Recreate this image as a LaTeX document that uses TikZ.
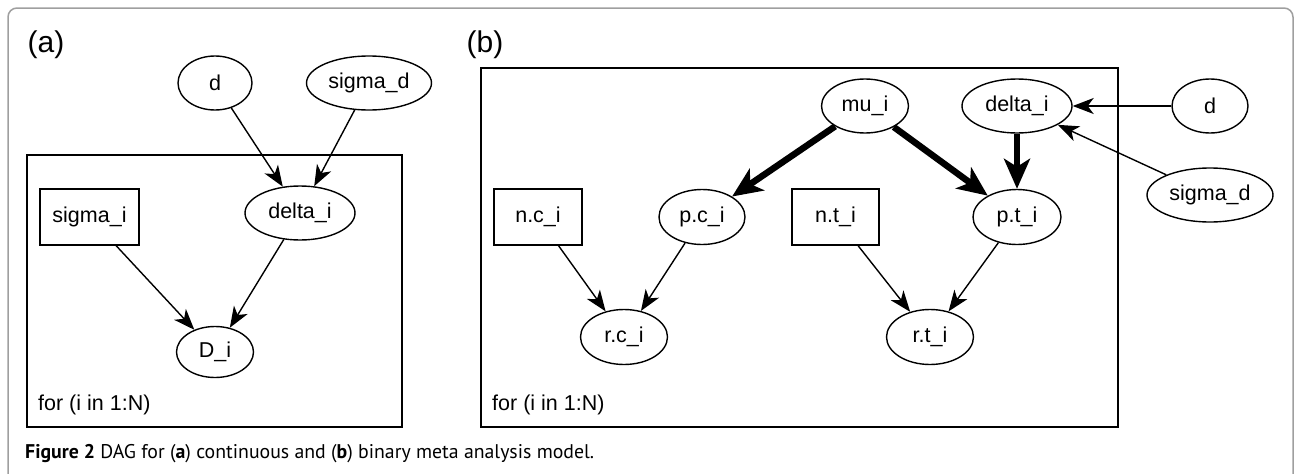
\documentclass[tikz,border=0pt]{standalone}
\usepackage{fontspec}
\setmainfont{Liberation Sans}
\newfontfamily\capfont{PT Sans}
\usetikzlibrary{shapes.geometric,arrows.meta}
\tikzset{
  ell/.style={ellipse,draw,line width=1.4pt,inner sep=0pt,font=\fontsize{21.5}{24}\selectfont},
  sq/.style={rectangle,draw,line width=1.4pt,inner sep=0pt,font=\fontsize{21.5}{24}\selectfont},
  plate/.style={draw,line width=1.8pt},
  arr/.style={line width=1.4pt,-{Stealth[length=21pt,width=16pt,inset=6pt]}},
  thick arr/.style={line width=6.5pt,-{Stealth[length=30pt,width=26pt,inset=8pt]}},
  lab/.style={font=\fontsize{21.5}{24}\selectfont,inner sep=0pt},
  plab/.style={font=\fontsize{30}{34}\selectfont,inner sep=0pt}
}
\begin{document}
\begin{tikzpicture}[x=1pt,y=-1pt]
\useasboundingbox (0,0) rectangle (1294,474);
% outer frame
\draw[gray!75,line width=1.5pt,rounded corners=9pt] (8,474) -- (8,8) -- (1293,8) -- (1293,474);
% panel (a)
\node[plab] (la) at (46,45) {(a)};
\draw[plate] (27,155) rectangle (402,427);
\node[lab,anchor=west] (fa) at (38,405) {for (i in 1:N)};
\node[ell,minimum width=74pt,minimum height=54pt] (da) at (215,83) {d};
\node[ell,minimum width=125pt,minimum height=54pt] (sda) at (369,83) {sigma\_d};
\node[ell,minimum width=110pt,minimum height=54pt] (dla) at (300,213) {delta\_i};
\node[sq,minimum width=99pt,minimum height=56pt] (sia) at (89.5,217) {sigma\_i};
\node[ell,minimum width=77pt,minimum height=51pt] (Di) at (215,352) {D\_i};
\draw[arr] (da) -- (dla);
\draw[arr] (sda) -- (dla);
\draw[arr] (sia) -- (Di);
\draw[arr] (dla) -- (Di);
% panel (b)
\node[plab] (lb) at (485,45) {(b)};
\draw[plate] (481,68) rectangle (1118,427);
\node[lab,anchor=west] (fb) at (492,405) {for (i in 1:N)};
\node[ell,minimum width=87pt,minimum height=54pt] (mu) at (865,106) {mu\_i};
\node[ell,minimum width=110pt,minimum height=54pt] (dlb) at (1017,106) {delta\_i};
\node[ell,minimum width=76pt,minimum height=54pt] (db) at (1210,106) {d};
\node[ell,minimum width=126pt,minimum height=54pt] (sdb) at (1210,195) {sigma\_d};
\node[sq,minimum width=88pt,minimum height=56pt] (nc) at (538,217) {n.c\_i};
\node[ell,minimum width=86pt,minimum height=55pt] (pc) at (702,217) {p.c\_i};
\node[sq,minimum width=87pt,minimum height=56pt] (nt) at (835.5,217) {n.t\_i};
\node[ell,minimum width=88pt,minimum height=55pt] (pt) at (1017,217) {p.t\_i};
\node[ell,minimum width=87pt,minimum height=55pt] (rc) at (624,337) {r.c\_i};
\node[ell,minimum width=87pt,minimum height=55pt] (rt) at (930,337) {r.t\_i};
\draw[arr] (db) -- (dlb);
\draw[arr] (sdb) -- (dlb);
\draw[thick arr] (mu) -- (pc);
\draw[thick arr] (mu) -- (pt);
\draw[thick arr] (dlb) -- (pt);
\draw[arr] (nc) -- (rc);
\draw[arr] (pc) -- (rc);
\draw[arr] (nt) -- (rt);
\draw[arr] (pt) -- (rt);
% caption
\node[anchor=base west,inner sep=0pt,font=\capfont\fontsize{19.8}{22}\selectfont] (cap) at (25,458)
  {\textbf{Figure 2} DAG for (\textbf{a}) continuous and (\textbf{b}) binary meta analysis model.};
\end{tikzpicture}
\end{document}
